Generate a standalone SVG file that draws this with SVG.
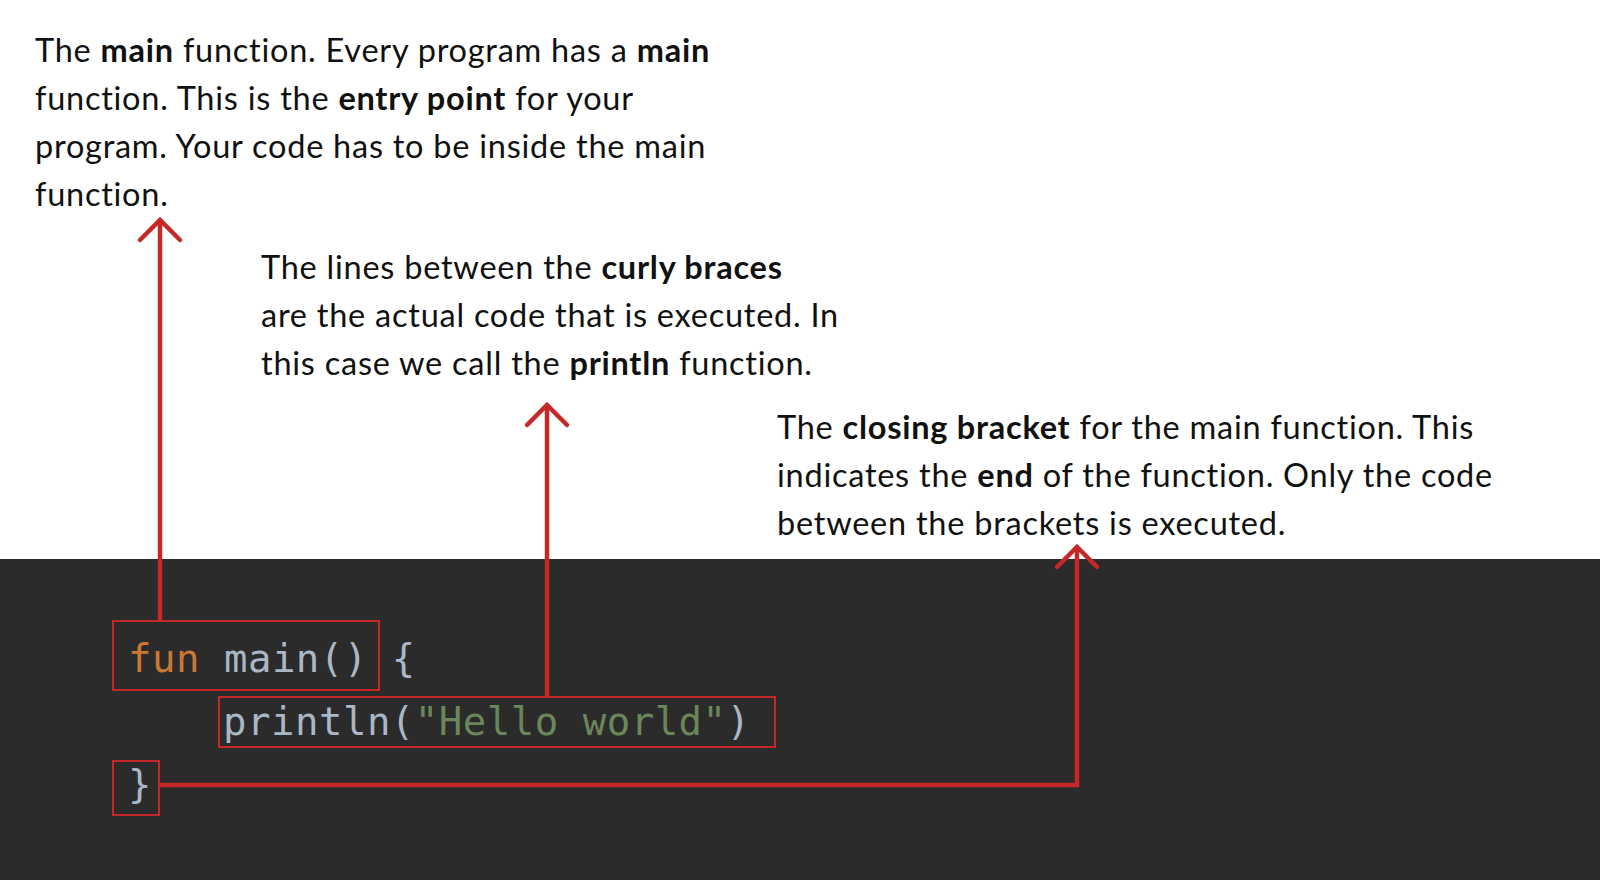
<svg xmlns="http://www.w3.org/2000/svg" width="1600" height="880" viewBox="0 0 1600 880">
  <defs>
    <style>
      .note { font-family: "Lato", "Noto Sans", "Liberation Sans", sans-serif; font-size: 32.5px; letter-spacing: 0.75px; fill: #111111; }
      .b { font-weight: bold; }
      .code { font-family: "DejaVu Sans Mono", "Liberation Mono", monospace; font-size: 39px; letter-spacing: 0.5px; fill: #a9b7c6; }
      .kw { fill: #cc7832; }
      .str { fill: #6a8759; }
      .box { fill: none; stroke: #c62828; stroke-width: 2; }
      .conn { fill: none; stroke: #c62828; stroke-width: 4.5; stroke-linejoin: miter; marker-end: url(#head); }
    </style>
    <marker id="head" viewBox="-25 -25 50 50" refX="0" refY="0" markerWidth="50" markerHeight="50" markerUnits="userSpaceOnUse" orient="auto">
      <path d="M -20 -20 L 0 0 L -20 20" fill="none" stroke="#c62828" stroke-width="4.5" stroke-linecap="round" stroke-linejoin="miter"/>
    </marker>
  </defs>
  <rect x="0" y="0" width="1600" height="880" fill="#ffffff"/>
  <rect x="0" y="559" width="1600" height="321" fill="#2b2b2b"/>

  <g id="note-main">
    <text class="note" x="35" y="62">The <tspan class="b">main</tspan> function. Every program has a <tspan class="b">main</tspan></text>
    <text class="note" x="35" y="110">function. This is the <tspan class="b">entry point</tspan> for your</text>
    <text class="note" x="35" y="158">program. Your code has to be inside the main</text>
    <text class="note" x="35" y="206">function.</text>
  </g>

  <g id="note-body">
    <text class="note" x="261" y="279">The lines between the <tspan class="b">curly braces</tspan></text>
    <text class="note" x="261" y="327">are the actual code that is executed. In</text>
    <text class="note" x="261" y="375">this case we call the <tspan class="b">println</tspan> function.</text>
  </g>

  <g id="note-close">
    <text class="note" x="777" y="439">The <tspan class="b">closing bracket</tspan> for the main function. This</text>
    <text class="note" x="777" y="487">indicates the <tspan class="b">end</tspan> of the function. Only the code</text>
    <text class="note" x="777" y="535">between the brackets is executed.</text>
  </g>

  <g id="code-main">
    <rect class="box" x="113" y="621" width="266" height="69"/>
    <text class="code" x="128" y="672"><tspan class="kw">fun</tspan> main() {</text>
  </g>

  <g id="code-println">
    <rect class="box" x="219" y="697" width="556" height="50"/>
    <text class="code" x="223" y="735">println(<tspan class="str">"Hello world"</tspan>)</text>
  </g>

  <g id="code-close">
    <rect class="box" x="113" y="761" width="46" height="54"/>
    <text class="code" x="128" y="798">}</text>
  </g>

  <g id="connectors">
    <path class="conn" d="M 160 621 L 160 220"/>
    <path class="conn" d="M 547 697 L 547 405"/>
    <path class="conn" d="M 159 785 L 1077 785 L 1077 547"/>
  </g>
</svg>
